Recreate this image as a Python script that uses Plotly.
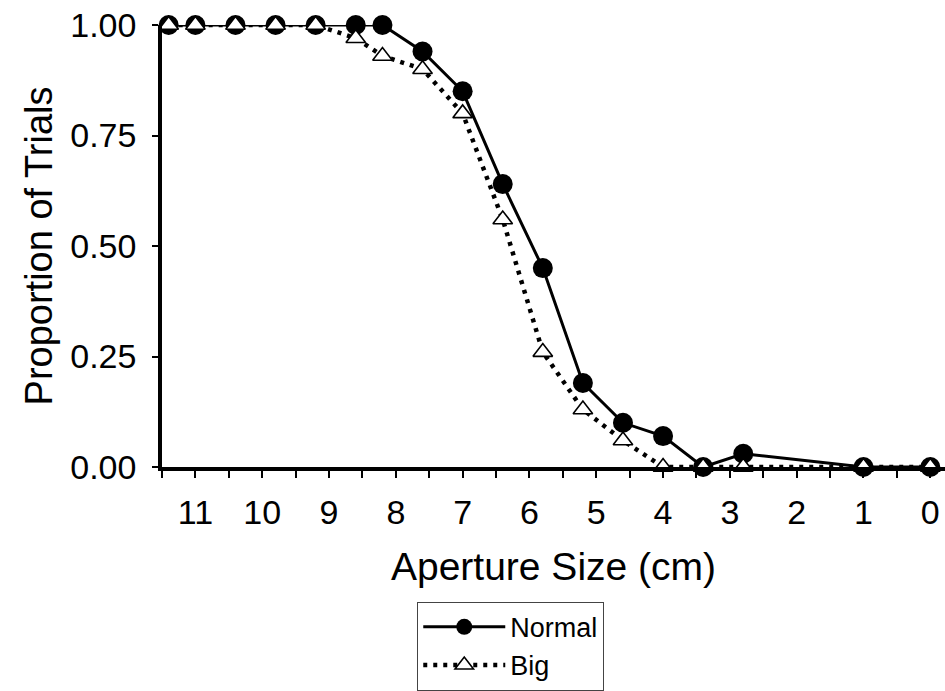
import plotly.graph_objects as go

# Aperture sizes (cm) at which trials were run
aperture_cm = [11.4, 11.0, 10.4, 9.8, 9.2, 8.6, 8.2, 7.6, 7.0, 6.4, 5.8, 5.2, 4.6, 4.0, 3.4, 2.8, 1.0, 0.0]

# Proportion of trials per condition
normal_prop = [1.00, 1.00, 1.00, 1.00, 1.00, 1.00, 1.00, 0.94, 0.85, 0.64, 0.45, 0.19, 0.10, 0.07, 0.00, 0.03, 0.00, 0.00]
big_prop = [1.00, 1.00, 1.00, 1.00, 1.00, 0.97, 0.93, 0.90, 0.80, 0.56, 0.26, 0.13, 0.06, 0.00, 0.00, 0.00, 0.00, 0.00]

# Axis ticks
x_tick_vals = list(range(0, 12))
x_tick_text = [str(v) for v in x_tick_vals]
y_tick_vals = [0.0, 0.25, 0.50, 0.75, 1.00]
y_tick_text = ["0.00", "0.25", "0.50", "0.75", "1.00"]

FONT = "Arial, 'Liberation Sans', sans-serif"

fig = go.Figure()

fig.add_trace(go.Scatter(
    x=aperture_cm, y=normal_prop, name="Normal", mode="lines+markers",
    line=dict(color="black", width=3),
    marker=dict(symbol="circle", size=20, color="black", line=dict(color="black", width=0)),
    cliponaxis=False,
))

fig.add_trace(go.Scatter(
    x=aperture_cm, y=big_prop, name="Big", mode="lines+markers",
    line=dict(color="black", width=4.5, dash="4px,6px"),
    marker=dict(symbol="triangle-up", size=17, color="white", line=dict(color="black", width=1.6)),
    cliponaxis=False,
))

fig.update_layout(
    width=945, height=691,
    margin=dict(l=162, r=0, t=25, b=224),
    paper_bgcolor="white", plot_bgcolor="white",
    font=dict(family=FONT, color="black"),
    showlegend=True,
    legend=dict(
        x=0.326, y=-0.305, xanchor="left", yanchor="top",
        bgcolor="white", bordercolor="#444", borderwidth=1,
        font=dict(size=27, family=FONT, color="black"),
        itemwidth=82, tracegroupgap=0,
    ),
)

fig.update_xaxes(
    range=[11.5, -0.22],
    tickmode="array", tickvals=x_tick_vals, ticktext=x_tick_text,
    ticks="outside", ticklen=7, tickwidth=1.5, tickcolor="black",
    ticklabelstandoff=5,
    minor=dict(dtick=0.5, tick0=0, ticks="outside", ticklen=7, tickwidth=1.5, tickcolor="black"),
    showline=True, linecolor="black", linewidth=4,
    showgrid=False, zeroline=False,
    tickfont=dict(size=34, family=FONT, color="black"),
    title=dict(text="Aperture Size (cm)", font=dict(size=39, family=FONT, color="black"), standoff=24),
)

fig.update_yaxes(
    range=[0, 1],
    tickmode="array", tickvals=y_tick_vals, ticktext=y_tick_text,
    ticks="outside", ticklen=6, tickwidth=1.5, tickcolor="black",
    ticklabelstandoff=9,
    showline=True, linecolor="black", linewidth=3.5,
    showgrid=False, zeroline=False,
    tickfont=dict(size=34, family=FONT, color="black"),
    title=dict(text="Proportion of Trials", font=dict(size=38, family=FONT, color="black"), standoff=7),
)

fig.write_html("out.html")
